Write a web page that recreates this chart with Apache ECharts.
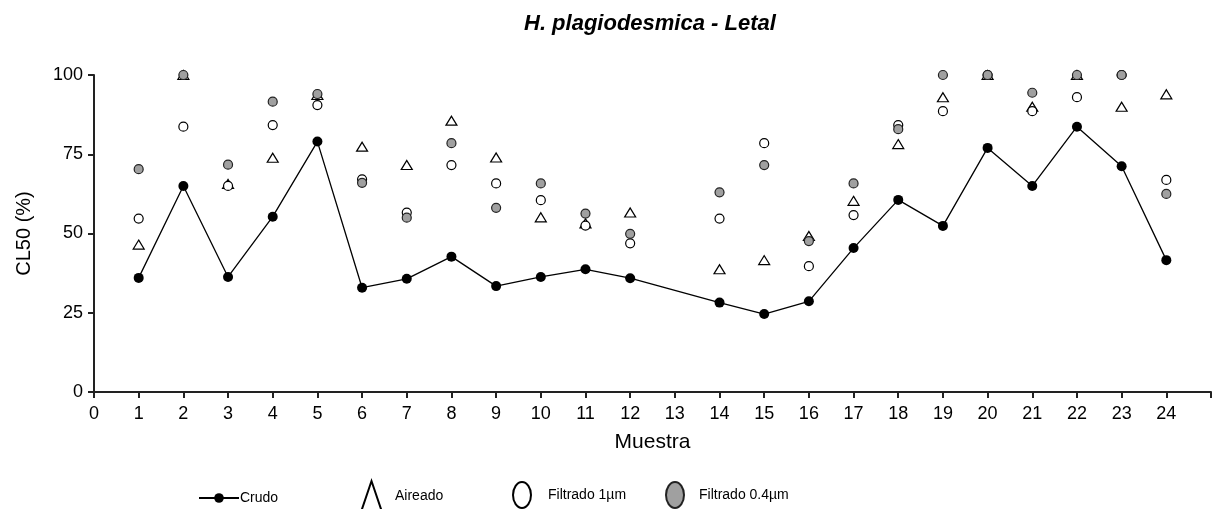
<!DOCTYPE html>
<html>
<head>
<meta charset="utf-8">
<title>H. plagiodesmica - Letal</title>
<script src="https://cdn.jsdelivr.net/npm/echarts@6/dist/echarts.min.js"></script>
<style>
  html, body { margin: 0; padding: 0; background: #fff; }
  #chart { width: 1216px; height: 509px; }
</style>
</head>
<body>
<div id="chart"></div>
<script>
// Sample numbers (no sample 13)
const muestras = [1, 2, 3, 4, 5, 6, 7, 8, 9, 10, 11, 12, 14, 15, 16, 17, 18, 19, 20, 21, 22, 23, 24];

// CL50 (%) per treatment
const crudo      = [36, 65, 36.3, 55.3, 79, 32.9, 35.7, 42.7, 33.4, 36.3, 38.7, 35.9, 28.2, 24.6, 28.6, 45.4, 60.6, 52.4, 77, 65, 83.7, 71.2, 41.6];
const aireado    = [46.5, 100, 65.6, 73.9, 93.7, 77.4, 71.6, 85.6, 74, 55.1, 53.2, 56.6, 38.7, 41.6, 49.2, 60.3, 78.2, 93, 100, 90, 100, 90, 93.9];
const filtrado1  = [54.7, 83.7, 65, 84.2, 90.5, 67.1, 56.6, 71.6, 65.8, 60.5, 52.5, 46.9, 54.7, 78.5, 39.7, 55.8, 84.2, 88.6, 100, 88.6, 93, 100, 66.9];
const filtrado04 = [70.3, 100, 71.7, 91.6, 94, 66, 55, 78.5, 58.1, 65.8, 56.3, 49.9, 63, 71.6, 47.6, 65.8, 82.9, 100, 100, 94.4, 100, 100, 62.5];

// Axis ticks
const xTicks = [0, 1, 2, 3, 4, 5, 6, 7, 8, 9, 10, 11, 12, 13, 14, 15, 16, 17, 18, 19, 20, 21, 22, 23, 24];
const yTicks = [0, 25, 50, 75, 100];

const pairs = vals => muestras.map((m, i) => [m, vals[i]]);

const FONT = 'Liberation Sans, Arial, sans-serif';
const AXIS_COLOR = '#222';
// Tall ellipse used as legend key for the circle series
const ELLIPSE = 'path://M9,0 A9,13 0 1,1 9,26 A9,13 0 1,1 9,0 Z';

const chart = echarts.init(document.getElementById('chart'), null, { renderer: 'canvas' });

function legendFor(name, opts, textPad) {
  return Object.assign({
    data: [name],
    padding: 0,
    selectedMode: false,
    textStyle: { color: '#000', fontSize: 14, fontFamily: FONT, padding: textPad }
  }, opts);
}

chart.setOption({
  animation: false,
  backgroundColor: '#fff',
  title: {
    text: 'H. plagiodesmica - Letal',
    left: 519,
    top: 8,
    textStyle: { fontFamily: FONT, fontSize: 22, fontWeight: 'bold', fontStyle: 'italic', color: '#000' }
  },
  grid: { left: 94, right: 5, top: 75, bottom: 117, containLabel: false },
  xAxis: {
    type: 'value',
    min: 0,
    max: 25,
    interval: 1,
    name: 'Muestra',
    nameLocation: 'middle',
    nameGap: 40,
    nameTextStyle: { fontFamily: FONT, fontSize: 21, color: '#000' },
    splitLine: { show: false },
    axisLine: { lineStyle: { color: AXIS_COLOR, width: 2 } },
    axisTick: { show: true, length: 6, lineStyle: { color: AXIS_COLOR, width: 2 } },
    axisLabel: {
      margin: 13,
      fontFamily: FONT,
      fontSize: 18,
      color: '#000',
      formatter: v => (xTicks.indexOf(v) >= 0 ? String(v) : '')
    }
  },
  yAxis: {
    type: 'value',
    min: 0,
    max: 100,
    interval: 25,
    name: 'CL50 (%)',
    nameLocation: 'middle',
    nameRotate: 90,
    nameGap: 60,
    nameTextStyle: { fontFamily: FONT, fontSize: 20, color: '#000' },
    splitLine: { show: false },
    axisLine: { show: true, lineStyle: { color: AXIS_COLOR, width: 2 } },
    axisTick: { show: true, length: 6, lineStyle: { color: AXIS_COLOR, width: 2 } },
    axisLabel: {
      margin: 11,
      fontFamily: FONT,
      fontSize: 18,
      color: '#000',
      formatter: v => (yTicks.indexOf(v) >= 0 ? String(v) : '')
    }
  },
  legend: [
    legendFor('Crudo', { left: 198, top: 491, itemWidth: 40, itemHeight: 12 }, [0, 0, 0, -4]),
    legendFor('Aireado', { left: 360, top: 480, itemWidth: 21, itemHeight: 31 }, [8, 0, 0, 8]),
    legendFor('Filtrado 1µm', { left: 512, top: 481, itemWidth: 18, itemHeight: 26, icon: ELLIPSE }, [9, 0, 0, 12]),
    legendFor('Filtrado 0.4µm', { left: 665, top: 481, itemWidth: 18, itemHeight: 26, icon: ELLIPSE }, [9, 0, 0, 10])
  ],
  series: [
    {
      name: 'Crudo',
      type: 'line',
      data: pairs(crudo),
      symbol: 'circle',
      symbolSize: 10,
      clip: false,
      itemStyle: { color: '#000', borderColor: '#000', borderWidth: 0 },
      lineStyle: { color: '#000', width: 1.3 },
      z: 2
    },
    {
      name: 'Aireado',
      type: 'scatter',
      data: pairs(aireado),
      symbol: 'triangle',
      symbolSize: [11, 9],
      clip: false,
      itemStyle: { color: '#fff', borderColor: '#000', borderWidth: 1.2, opacity: 1 },
      z: 3
    },
    {
      name: 'Filtrado 1µm',
      type: 'scatter',
      data: pairs(filtrado1),
      symbol: 'circle',
      symbolSize: 9,
      clip: false,
      itemStyle: { color: '#fff', borderColor: '#000', borderWidth: 1.2, opacity: 1 },
      z: 4
    },
    {
      name: 'Filtrado 0.4µm',
      type: 'scatter',
      data: pairs(filtrado04),
      symbol: 'circle',
      symbolSize: 9,
      clip: false,
      itemStyle: { color: '#a0a0a0', borderColor: '#222', borderWidth: 1.2, opacity: 1 },
      z: 5
    }
  ]
});
</script>
</body>
</html>
